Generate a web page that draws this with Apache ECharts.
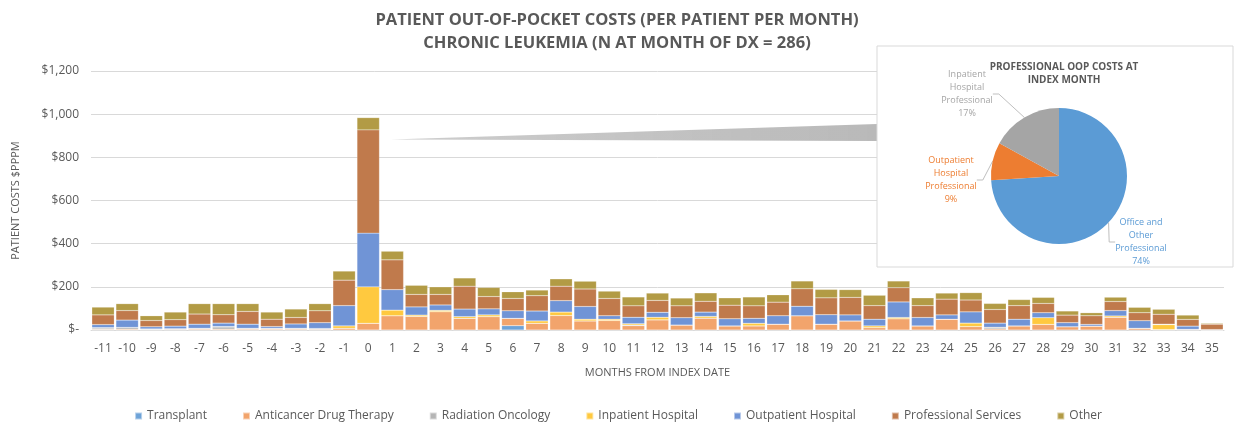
<!DOCTYPE html>
<html>
<head>
<meta charset="utf-8">
<script src="https://cdn.jsdelivr.net/npm/echarts@6/dist/echarts.min.js"></script>
<style>
html,body{margin:0;padding:0;background:#fff;}
#chart{width:1236px;height:424px;}
</style>
</head>
<body>
<div id="chart"></div>
<script>
// ---- Data ----
const months = ['-11','-10','-9','-8','-7','-6','-5','-4','-3','-2','-1','0','1','2','3','4','5','6','7','8','9','10','11','12','13','14','15','16','17','18','19','20','21','22','23','24','25','26','27','28','29','30','31','32','33','34','35'];
const seriesNames = ['Transplant','Anticancer Drug Therapy','Radiation Oncology','Inpatient Hospital','Outpatient Hospital','Professional Services','Other'];
const transplant   = [0,0,0,0,0,0,0,0,0,0,0,0,0,0,0,0,0,20,0,0,0,0,0,0,0,0,0,0,0,0,0,0,0,0,0,0,0,0,0,0,0,0,0,0,0,0,0];
const anticancer   = [3,4,2,3,4,4,4,4,4,3,8,31,66,63,85,54,62,34,31,67,42,44,20,47,23,55,19,19,27,66,27,42,11,52,19,50,16,5,19,26,15,18,59,8,2,3,0];
const radiation    = [6,8,3,3,4,10,4,4,4,4,0,0,0,0,0,0,0,0,0,0,0,0,3,0,0,0,0,0,0,0,0,0,0,0,0,0,0,8,0,0,0,0,0,0,0,0,0];
const inpatient    = [2,0,0,0,0,2,0,0,0,0,11,169,26,6,6,8,8,0,11,16,8,6,6,12,0,8,0,12,0,0,0,0,8,6,0,0,16,0,0,31,0,0,6,0,23,0,0];
const outpatient   = [14,34,10,12,19,16,19,8,20,27,94,249,95,38,25,35,28,35,46,53,59,16,30,23,34,20,33,23,39,44,44,28,31,72,39,20,52,19,31,23,19,8,25,35,2,15,2];
const professional = [45,44,29,30,47,39,59,34,30,55,118,478,138,58,49,106,57,57,71,67,81,80,53,55,55,50,63,58,63,81,78,81,63,66,55,73,55,63,63,43,35,40,42,37,46,31,25];
const other        = [36,32,22,35,48,51,36,33,39,33,42,57,40,42,35,38,42,31,26,34,36,34,41,34,36,39,34,41,34,36,39,36,48,31,36,28,34,28,28,28,19,14,20,25,23,20,4];
const yTickLabels  = ['$-','$200','$400','$600','$800','$1,000','$1,200'];

const pieNames  = ['Office and\nOther\nProfessional','Outpatient\nHospital\nProfessional','Inpatient\nHospital\nProfessional'];
const pieValues = [74, 9, 17];

// ---- Styles ----
const barColors = ['#6ea3d8','#f2a46c','#b5b5b5','#ffc93f','#7094d6','#c07a4c','#b29b45'];
const pieColors = ['#5b9bd5','#ed7d31','#a5a5a5'];
const FONT = '"Open Sans", sans-serif';
const TXT = '#595959';
// label anchor points for the inset pie (layout only)
const pieLabelPos = [[1141, 242], [951, 180], [967, 94]];

const barSeries = [transplant, anticancer, radiation, inpatient, outpatient, professional, other].map((d, i) => ({
  name: seriesNames[i],
  type: 'bar',
  stack: 'total',
  data: d,
  barCategoryGap: '7%',
  itemStyle: { color: barColors[i], borderColor: 'rgba(255,255,255,0.5)', borderWidth: 0.4 },
  emphasis: { disabled: true },
  z: 2
}));

const chart = echarts.init(document.getElementById('chart'), null, { renderer: 'canvas' });
chart.setOption({
  animation: false,
  textStyle: { fontFamily: FONT },
  title: [
    {
      text: 'PATIENT OUT-OF-POCKET COSTS (PER PATIENT PER MONTH)\nCHRONIC LEUKEMIA (N AT MONTH OF DX = 286)',
      left: 612, top: 4, textAlign: 'center',
      textStyle: { fontSize: 16.5, fontWeight: 'bold', color: TXT, lineHeight: 23, fontFamily: FONT }
    },
    {
      text: 'PROFESSIONAL OOP COSTS AT\nINDEX MONTH',
      left: 1059, top: 56, textAlign: 'center',
      textStyle: { fontSize: 10, fontWeight: 'bold', color: TXT, lineHeight: 13, fontFamily: FONT }
    }
  ],
  legend: {
    data: seriesNames,
    left: 'center', top: 405,
    icon: 'rect', itemWidth: 7, itemHeight: 7, itemGap: 35,
    textStyle: { color: TXT, fontSize: 12, fontFamily: FONT }
  },
  grid: { left: 91, right: 12, top: 71, bottom: 94, containLabel: false },
  xAxis: {
    type: 'category',
    data: months,
    axisTick: { show: false },
    axisLine: { lineStyle: { color: '#d9d9d9' } },
    axisLabel: { color: TXT, fontSize: 12, margin: 13, interval: 0 },
    name: 'MONTHS FROM INDEX DATE',
    nameLocation: 'middle', nameGap: 37,
    nameTextStyle: { color: TXT, fontSize: 11 }
  },
  yAxis: {
    type: 'value',
    min: 0, max: 1200, interval: 200,
    axisLine: { show: false },
    axisTick: { show: false },
    splitLine: { lineStyle: { color: '#d9d9d9' } },
    axisLabel: { color: TXT, fontSize: 12, margin: 12, formatter: v => yTickLabels[Math.round(v / 200)] },
    name: 'PATIENT COSTS $PPPM',
    nameLocation: 'middle', nameGap: 70,
    nameTextStyle: { color: TXT, fontSize: 11 }
  },
  graphic: [
    {
      type: 'polygon', z: 1,
      shape: { points: [[391, 139.5], [877, 124], [877, 141]] },
      style: {
        fill: new echarts.graphic.LinearGradient(0, 0, 1, 0, [
          { offset: 0, color: 'rgba(200,200,200,0.9)' },
          { offset: 1, color: 'rgba(185,185,185,1)' }
        ])
      }
    },
    {
      type: 'rect', z: 1,
      shape: { x: 877, y: 46, width: 356, height: 221 },
      style: { fill: '#ffffff', stroke: '#d9d9d9', lineWidth: 1 }
    }
  ],
  series: barSeries.concat([{
    type: 'pie',
    center: [1059, 176],
    radius: 68,
    startAngle: 90,
    clockwise: true,
    z: 5,
    silent: true,
    data: pieNames.map((n, i) => ({ name: n, value: pieValues[i], itemStyle: { color: pieColors[i] } })),
    label: {
      show: true,
      formatter: '{b}\n{c}%',
      fontSize: 9,
      lineHeight: 13,
      fontFamily: FONT,
      color: 'inherit'
    },
    labelLayout: p => ({
      x: pieLabelPos[p.dataIndex][0],
      y: pieLabelPos[p.dataIndex][1],
      align: 'center',
      verticalAlign: 'middle'
    }),
    labelLine: { show: true, length: 6, length2: 6, lineStyle: { color: '#bfbfbf' } },
    emphasis: { disabled: true }
  }])
});
</script>
</body>
</html>
